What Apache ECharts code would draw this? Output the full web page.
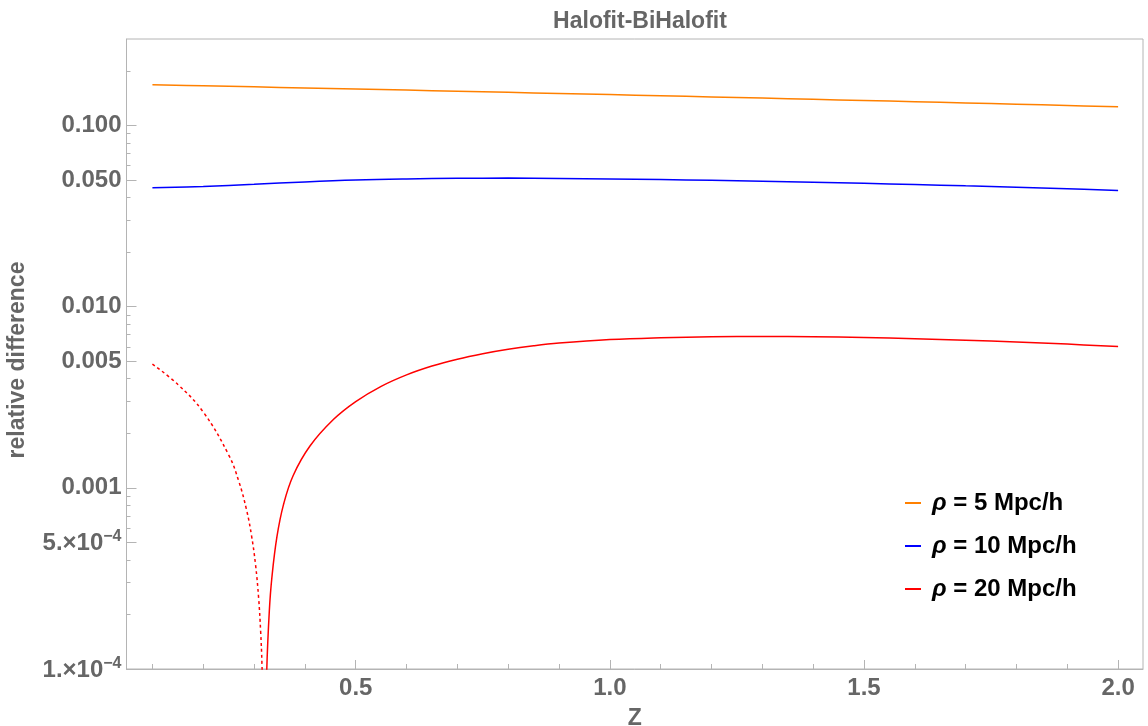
<!DOCTYPE html>
<html lang="en">
	<head>
		<meta charset="utf-8" />
		<title>Halofit-BiHalofit</title>
		<style>
			html, body { margin: 0; padding: 0; background: #fff; }
			#chart { width: 1148px; height: 726px; }
		</style>
	</head>
	<body>
		<div id="chart"></div>

		<script type="text/javascript" src="https://cdn.jsdelivr.net/npm/echarts@6.0.0/dist/echarts.min.js"></script>
		<script type="text/javascript">
			/******************* data ******************/
			// redshift grid for the two smooth curves
			const zGrid = [0.1, 0.2, 0.3, 0.4, 0.5, 0.6, 0.7, 0.8, 0.9, 1.0,
				1.1, 1.2, 1.3, 1.4, 1.5, 1.6, 1.7, 1.8, 1.9, 2.0];
			// rho = 5 Mpc/h
			const rho5 = [0.1677, 0.1655, 0.1633, 0.1611, 0.1589, 0.1567, 0.1545, 0.1523, 0.1501, 0.1480,
				0.1458, 0.1437, 0.1416, 0.1394, 0.1373, 0.1352, 0.1330, 0.1310, 0.1289, 0.1268];
			// rho = 10 Mpc/h
			const rho10 = [0.0453, 0.0461, 0.0473, 0.0488, 0.0500, 0.0507, 0.0511, 0.0512, 0.0510, 0.0507,
				0.0503, 0.0498, 0.0492, 0.0486, 0.0479, 0.0472, 0.0464, 0.0456, 0.0447, 0.0437];
			// rho = 20 Mpc/h, negative branch (absolute value, dotted)
			const rho20NegZ = [0.10, 0.15, 0.20, 0.25, 0.27, 0.285, 0.295, 0.303, 0.309, 0.313, 0.3155, 0.318, 0.3195];
			const rho20Neg = [4.82e-3, 3.72e-3, 2.62e-3, 1.52e-3, 1.085e-3, 7.6e-4, 5.45e-4, 3.74e-4, 2.46e-4, 1.6e-4, 1.07e-4, 5.4e-5, 2.2e-5];
			// rho = 20 Mpc/h, positive branch (solid)
			const rho20PosZ = [0.322, 0.325, 0.33, 0.335, 0.345, 0.358, 0.377, 0.41, 0.456, 0.5, 0.55, 0.6, 0.65, 0.7, 0.75,
				0.8, 0.85, 0.9, 1.0, 1.1, 1.2, 1.3, 1.4, 1.5, 1.6, 1.7, 1.8, 1.9, 2.0];
			const rho20Pos = [3.3e-5, 9.9e-5, 2.09e-4, 3.19e-4, 5.37e-4, 8.1e-4, 1.17e-3, 1.70e-3, 2.38e-3, 2.99e-3, 3.63e-3, 4.20e-3, 4.70e-3, 5.13e-3, 5.50e-3,
				5.82e-3, 6.08e-3, 6.29e-3, 6.58e-3, 6.74e-3, 6.83e-3, 6.85e-3, 6.82e-3, 6.75e-3, 6.65e-3, 6.53e-3, 6.38e-3, 6.21e-3, 6.02e-3];

			// ticks
			const xMajor = [0.5, 1.0, 1.5, 2.0];
			const xMinor = [0.1, 0.2, 0.3, 0.4, 0.6, 0.7, 0.8, 0.9, 1.1, 1.2, 1.3, 1.4, 1.6, 1.7, 1.8, 1.9];
			const yMajor = [1e-4, 5e-4, 0.001, 0.005, 0.01, 0.05, 0.1];
			const yMajorLabels = ['{m|1.×10}{s|−4}', '{m|5.×10}{s|−4}', '0.001', '0.005', '0.010', '0.050', '0.100'];
			const yMinor = [2e-4, 3e-4, 4e-4, 6e-4, 7e-4, 8e-4, 9e-4,
				0.002, 0.003, 0.004, 0.006, 0.007, 0.008, 0.009,
				0.02, 0.03, 0.04, 0.06, 0.07, 0.08, 0.09, 0.2];
			const seriesNames = ['ρ = 5 Mpc/h', 'ρ = 10 Mpc/h', 'ρ = 20 Mpc/h'];

			/******************* helpers ******************/
			// the y axis is a value axis over log10 of the data
			const lg = v => Math.log10(v);
			const pairs = (zs, vs) => zs.map((z, i) => [z, lg(vs[i])]);

			const FONT = "'Liberation Sans', Arial, sans-serif";
			const GRAY = '#666666';
			const FRAME = '#b4b4b4';
			const X_MIN = 0.049, X_MAX = 2.049;
			const Y_MIN = lg(1e-4), Y_MAX = lg(0.3);

			function yLabel(val) {
				for (let i = 0; i < yMajor.length; i++) {
					if (Math.abs(lg(yMajor[i]) - val) < 1e-6) return yMajorLabels[i];
				}
				return '';
			}

			const chart = echarts.init(document.getElementById('chart'), null, { renderer: 'canvas' });

			const option = {
				backgroundColor: '#ffffff',
				animation: false,
				title: {
					text: 'Halofit-BiHalofit',
					left: 635,
					textAlign: 'center',
					top: 5,
					textStyle: { color: GRAY, fontFamily: FONT, fontWeight: 'bold', fontSize: 23 }
				},
				grid: {
					left: 126.5, right: 5, top: 39, bottom: 57,
					outerBoundsMode: 'none', containLabel: false,
					show: true, borderColor: FRAME, borderWidth: 1, backgroundColor: 'transparent'
				},
				legend: {
					data: seriesNames,
					orient: 'vertical',
					left: 905,
					top: 491,
					padding: 0,
					itemGap: 19,
					itemWidth: 16,
					itemHeight: 2,
					icon: 'rect',
					formatter: name => name.replace('ρ', '{i|ρ}'),
					textStyle: {
						color: '#000', fontFamily: FONT, fontWeight: 'bold', fontSize: 24, lineHeight: 24,
						padding: [0, 0, 0, 6],
						rich: { i: { color: '#000', fontFamily: FONT, fontWeight: 'bold', fontStyle: 'italic', fontSize: 24 } }
					}
				},
				xAxis: [
					{
						type: 'value', min: X_MIN, max: X_MAX, position: 'bottom',
						name: 'Z', nameLocation: 'middle', nameGap: 38,
						nameTextStyle: { color: GRAY, fontFamily: FONT, fontWeight: 'bold', fontSize: 23 },
						axisLine: { onZero: false, lineStyle: { color: FRAME, width: 1 } },
						axisTick: { inside: true, length: 9, customValues: xMajor, lineStyle: { color: FRAME } },
						axisLabel: {
							customValues: xMajor, margin: 7,
							formatter: v => v.toFixed(1),
							color: GRAY, fontFamily: FONT, fontWeight: 'bold', fontSize: 24
						},
						splitLine: { show: false }
					},
					{
						type: 'value', min: X_MIN, max: X_MAX, position: 'bottom',
						axisLine: { show: false, onZero: false },
						axisTick: { inside: true, length: 5, customValues: xMinor, lineStyle: { color: FRAME } },
						axisLabel: { show: false },
						splitLine: { show: false }
					}
				],
				yAxis: [
					{
						type: 'value', min: Y_MIN, max: Y_MAX, position: 'left',
						name: 'relative difference', nameLocation: 'middle', nameGap: 97,
						nameTextStyle: { color: GRAY, fontFamily: FONT, fontWeight: 'bold', fontSize: 23, padding: [0, 12, 0, 0] },
						axisLine: { show: true, onZero: false, lineStyle: { color: FRAME, width: 1 } },
						axisTick: { show: true, inside: true, length: 10, customValues: yMajor.map(lg), lineStyle: { color: FRAME } },
						axisLabel: {
							customValues: yMajor.map(lg), margin: 5,
							formatter: yLabel,
							color: GRAY, fontFamily: FONT, fontWeight: 'bold', fontSize: 24,
							rich: {
								m: { color: GRAY, fontFamily: FONT, fontWeight: 'bold', fontSize: 24, lineHeight: 27, verticalAlign: 'bottom' },
								s: { color: GRAY, fontFamily: FONT, fontWeight: 'bold', fontSize: 16, lineHeight: 14, verticalAlign: 'top' }
							}
						},
						splitLine: { show: false }
					},
					{
						type: 'value', min: Y_MIN, max: Y_MAX, position: 'left',
						axisLine: { show: false, onZero: false },
						axisTick: { show: true, inside: true, length: 4, customValues: yMinor.map(lg), lineStyle: { color: FRAME } },
						axisLabel: { show: false },
						splitLine: { show: false }
					}
				],
				series: [
					{
						name: seriesNames[0], type: 'line', showSymbol: false, smooth: 0.4,
						color: '#ff8000', lineStyle: { width: 1.5 },
						data: pairs(zGrid, rho5)
					},
					{
						name: seriesNames[1], type: 'line', showSymbol: false, smooth: 0.4,
						color: '#0000ff', lineStyle: { width: 1.5 },
						data: pairs(zGrid, rho10)
					},
					{
						name: seriesNames[2], type: 'line', showSymbol: false, smooth: 0.4,
						color: '#ff0000', lineStyle: { width: 1.5 },
						data: pairs(rho20PosZ, rho20Pos)
					},
					{
						name: 'ρ = 20 Mpc/h (negative)', type: 'line', showSymbol: false, smooth: 0.4,
						color: '#ff0000', lineStyle: { width: 1.5, type: [3, 3] },
						data: pairs(rho20NegZ, rho20Neg)
					}
				]
			};
			chart.setOption(option);

			window.onresize = function () {
				chart.resize();
			};
		</script>
	</body>
</html>
